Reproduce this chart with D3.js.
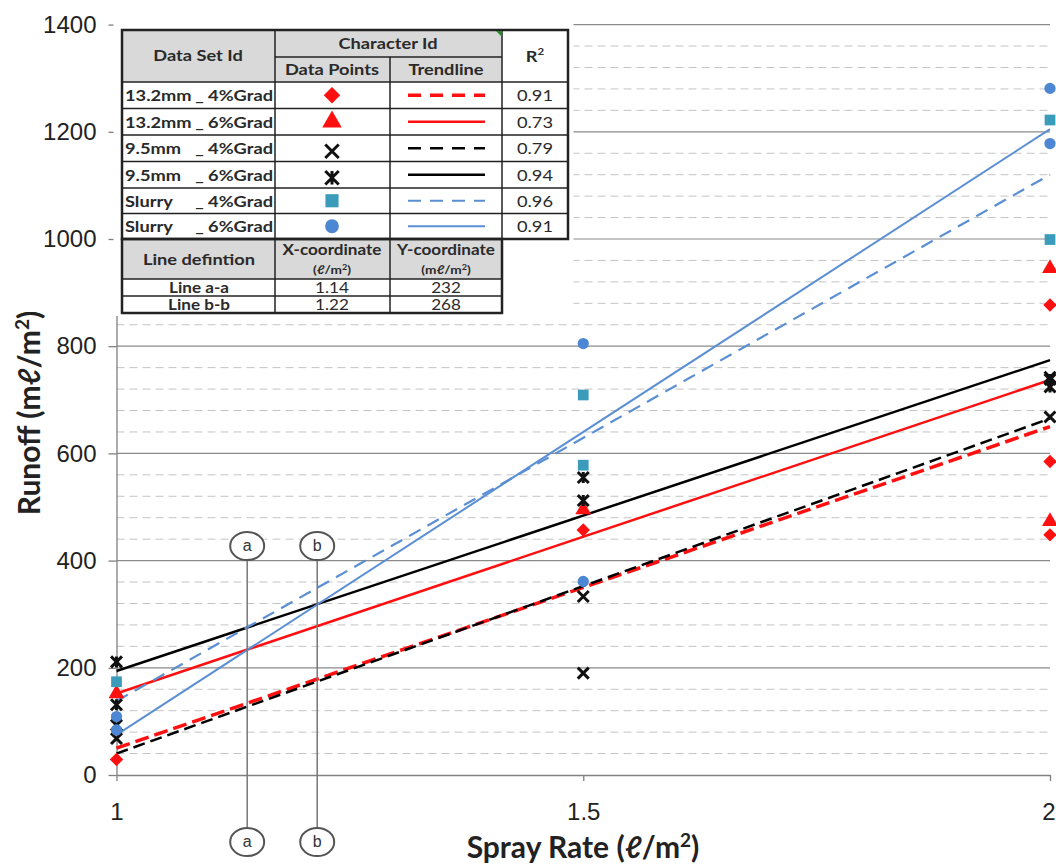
<!DOCTYPE html>
<html>
<head>
<meta charset="utf-8">
<script src="https://cdn.jsdelivr.net/npm/d3@7"></script>
<style>
  body { margin: 0; background: #fff; }
  svg { display: block; font-family: "Liberation Sans", Arial, sans-serif; }
  .tbl text { font-family: Lato, "Open Sans", sans-serif; font-size: 16px; fill: #2a2a2a; }
  .tbl .hd { font-weight: bold; }
</style>
</head>
<body>
<svg id="chart" width="1056" height="864"></svg>
<script>
// ---- data ----
const sprayRates = [1, 1.5, 2];
const xTicks = [1, 1.5, 2];
const xTickLabels = ["1", "1.5", "2"];
const yTicks = [0, 200, 400, 600, 800, 1000, 1200, 1400];

const setNames = ["13.2mm", "13.2mm", "9.5mm", "9.5mm", "Slurry", "Slurry"];
const setGrads = ["_ 4%Grad", "_ 6%Grad", "_ 4%Grad", "_ 6%Grad", "_ 4%Grad", "_ 6%Grad"];
const rSquared = ["0.91", "0.73", "0.79", "0.94", "0.96", "0.91"];

// runoff points, grouped by spray rate (1, 1.5, 2)
const mm132Grad4 = [[29], [457], [877, 585, 448]];
const mm132Grad6 = [[152], [495], [945, 473]];
const mm95Grad4 = [[93, 68], [333, 190], [668, 742]];
const mm95Grad6 = [[211, 131], [555, 512], [738, 724]];
const slurryGrad4 = [[174], [709, 578], [1222, 999]];
const slurryGrad6 = [[109, 84], [805, 361], [1281, 1178]];

// trendline values at spray rate 1 and 2
const trendAt1 = [50, 152, 40, 194, 138, 75];
const trendAt2 = [650, 737, 665, 774, 1120, 1205];

// line definition table + the a / b guide lines
const lineDefNames = ["Line a-a", "Line b-b"];
const lineDefX = ["1.14", "1.22"];
const lineDefY = ["232", "268"];
const guideX = [1.14, 1.215];
const guideLabels = ["a", "b"];

// ---- look ----
const red = "#ff1010", blue = "#5b8fd4", teal = "#3a9bba", dot = "#4d86d2";
const seriesPoints = [mm132Grad4, mm132Grad6, mm95Grad4, mm95Grad6, slurryGrad4, slurryGrad6];
const markerColor = [red, red, "#111", "#111", teal, dot];
const lineColor = [red, red, "#000", "#000", blue, blue];
const lineDash = ["14,6", null, "12,6", null, "13,8", null];
const lineWidth = [3.5, 2.5, 2.5, 2.5, 2.2, 2];

const symbolX = { draw(ctx, size) {
  const r = Math.sqrt(size) / 2;
  ctx.moveTo(-r, -r); ctx.lineTo(r, r); ctx.moveTo(r, -r); ctx.lineTo(-r, r);
}};
const symbolStar = { draw(ctx, size) {
  const r = Math.sqrt(size) / 2;
  ctx.moveTo(-r, -r); ctx.lineTo(r, r); ctx.moveTo(r, -r); ctx.lineTo(-r, r);
  ctx.moveTo(0, -r); ctx.lineTo(0, r);
}};
const symbolRhomb = { draw(ctx, size) {
  const r = Math.sqrt(size) / 2;
  ctx.moveTo(0, -r); ctx.lineTo(r, 0); ctx.lineTo(0, r); ctx.lineTo(-r, 0); ctx.closePath();
}};
const markerType = [symbolRhomb, d3.symbolTriangle, symbolX, symbolStar, d3.symbolSquare, d3.symbolCircle];
const markerSize = [180, 110, 120, 120, 115, 100];
const strokeMarker = [false, false, true, true, false, false];

const svg = d3.select("#chart");
const x = d3.scaleLinear().domain([1, 2]).range([116.5, 1050]);
const y = d3.scaleLinear().domain([0, 1400]).range([775, 24.6]);

// gridlines
const minor = d3.range(40, 1400, 40).filter(v => v % 200 !== 0);
svg.append("g").selectAll("line").data(minor).join("line")
  .attr("x1", x(1)).attr("x2", x(2))
  .attr("y1", d => y(d)).attr("y2", d => y(d))
  .style("stroke", "#c4c4c4").style("stroke-dasharray", "8,5").style("stroke-width", 1);
svg.append("g").selectAll("line").data(yTicks.filter(v => v > 0)).join("line")
  .attr("x1", x(1)).attr("x2", x(2))
  .attr("y1", d => y(d)).attr("y2", d => y(d))
  .style("stroke", "#8a8a8a").style("stroke-width", 1.2);

// axes
const yAxis = svg.append("g").attr("transform", `translate(${x(1)},0)`)
  .call(d3.axisLeft(y).tickValues(yTicks).tickFormat(d3.format("d")).tickSize(8).tickSizeOuter(0).tickPadding(12));
const xAxis = svg.append("g").attr("transform", `translate(0,${y(0)})`)
  .call(d3.axisBottom(x).tickValues(xTicks).tickFormat((d, i) => xTickLabels[i]).tickSize(6).tickSizeOuter(0).tickPadding(22));
[yAxis, xAxis].forEach(a => {
  a.selectAll("path, line").style("stroke", "#808080").style("stroke-width", 1.3);
  a.selectAll("text").style("font-size", "24px").style("fill", "#222");
});
xAxis.selectAll(".tick text").filter(d => d === 2).attr("text-anchor", "end").attr("dx", 5);

// trendlines
svg.append("g").selectAll("line").data(d3.range(6)).join("line")
  .attr("x1", x(1)).attr("x2", x(2))
  .attr("y1", i => y(trendAt1[i])).attr("y2", i => y(trendAt2[i]))
  .style("stroke", i => lineColor[i])
  .style("stroke-width", i => lineWidth[i])
  .style("stroke-dasharray", i => lineDash[i]);

// points
const flat = [];
seriesPoints.forEach((s, i) => s.forEach((vals, k) => vals.forEach(v => flat.push({ i, x: sprayRates[k], v }))));
svg.append("g").selectAll("path").data(flat).join("path")
  .attr("transform", d => `translate(${x(d.x)},${y(d.v)})`)
  .attr("d", d => d3.symbol(markerType[d.i], markerSize[d.i])())
  .style("fill", d => strokeMarker[d.i] ? "none" : markerColor[d.i])
  .style("stroke", d => strokeMarker[d.i] ? markerColor[d.i] : "none")
  .style("stroke-width", 3);

// a / b guide lines
const guides = svg.append("g").selectAll("g").data(guideX).join("g")
  .attr("transform", d => `translate(${x(d)},0)`);
guides.append("line").attr("y1", 560).attr("y2", 828)
  .style("stroke", "#777").style("stroke-width", 1.5);
[546, 842].forEach(cy => {
  guides.append("ellipse").attr("cy", cy).attr("rx", 17).attr("ry", 14)
    .style("fill", "#fff").style("stroke", "#555").style("stroke-width", 2);
  guides.append("text").attr("y", cy + 5).attr("text-anchor", "middle")
    .style("font-size", "16px").style("fill", "#333").text((d, i) => guideLabels[i]);
});

// axis titles
svg.append("text").attr("x", 583).attr("y", 858).attr("text-anchor", "middle")
  .style("font-family", "Lato, sans-serif").style("font-weight", "bold").style("font-size", "30px").style("fill", "#222")
  .html("Spray Rate (ℓ/m<tspan dy='-11' font-size='19px'>2</tspan><tspan dy='11'>)</tspan>");
svg.append("text").attr("transform", "translate(40,413) rotate(-90)").attr("text-anchor", "middle")
  .style("font-family", "Lato, sans-serif").style("font-weight", "bold").style("font-size", "30px").style("fill", "#222")
  .html("Runoff (mℓ/m<tspan dy='-11' font-size='19px'>2</tspan><tspan dy='11'>)</tspan>");

// ---- table overlay ----
const tbl = svg.append("g").attr("class", "tbl");
const cols = [122, 275, 390, 502, 568];
const rows = [82, 108.5, 135, 161.5, 188, 213.5, 239];
const stretch = 1.14;
tbl.append("rect").attr("x", 113.5).attr("y", 24).attr("width", 460).attr("height", 292).style("fill", "#fff");
// header fills
tbl.append("rect").attr("x", cols[0]).attr("y", 30).attr("width", cols[3] - cols[0]).attr("height", 52).style("fill", "#d9d9d9");
tbl.append("rect").attr("x", cols[0]).attr("y", 239).attr("width", cols[3] - cols[0]).attr("height", 40).style("fill", "#d9d9d9");

const hline = (x1, x2, yy, w) => tbl.append("line").attr("x1", x1).attr("x2", x2).attr("y1", yy).attr("y2", yy).style("stroke", "#222").style("stroke-width", w);
const vline = (xx, y1, y2, w) => tbl.append("line").attr("x1", xx).attr("x2", xx).attr("y1", y1).attr("y2", y2).style("stroke", "#222").style("stroke-width", w);

hline(cols[1], cols[3], 57, 1.5);
rows.slice(0, 6).forEach(r => hline(cols[0], cols[4], r, 1.5));
vline(cols[1], 30, 239, 1.5); vline(cols[2], 57, 239, 1.5); vline(cols[3], 30, 239, 1.5);
tbl.append("rect").attr("x", cols[0]).attr("y", 30).attr("width", cols[4] - cols[0]).attr("height", 209)
  .style("fill", "none").style("stroke", "#222").style("stroke-width", 2.5);
// second table
hline(cols[0], cols[3], 279, 1.5); hline(cols[0], cols[3], 296, 1.5);
vline(cols[1], 239, 313, 1.5); vline(cols[2], 239, 313, 1.5);
tbl.append("rect").attr("x", cols[0]).attr("y", 239).attr("width", cols[3] - cols[0]).attr("height", 74)
  .style("fill", "none").style("stroke", "#222").style("stroke-width", 2.5);
// comment marker
tbl.append("path").attr("d", `M${cols[3] - 6},31 L${cols[3]},31 L${cols[3]},37 Z`).style("fill", "#2a8a2a");

const txt = (s, xx, yy, anchor, bold, size) => tbl.append("text")
  .attr("transform", `translate(${xx},${yy}) scale(${stretch},1)`)
  .attr("text-anchor", anchor).attr("class", bold ? "hd" : null)
  .style("font-size", size ? size + "px" : null).html(s);
txt("Data Set Id", 198, 61, "middle", true);
txt("Character Id", 388, 49, "middle", true);
txt("Data Points", 332, 75, "middle", true);
txt("Trendline", 446, 75, "middle", true);
txt("R<tspan dy='-7' font-size='10px'>2</tspan>", 535, 62, "middle", true);

d3.range(6).forEach(i => {
  const cy = (rows[i] + rows[i + 1]) / 2;
  txt(setNames[i], 125, cy + 6, "start", true);
  txt(setGrads[i], 273, cy + 6, "end", true);
  txt(rSquared[i], 535, cy + 6, "middle", false);
  tbl.append("path").attr("transform", `translate(332,${cy + (strokeMarker[i] ? 3 : 0)})`)
    .attr("d", d3.symbol(markerType[i], markerSize[i] * 1.5)())
    .style("fill", strokeMarker[i] ? "none" : markerColor[i])
    .style("stroke", strokeMarker[i] ? "#111" : "none").style("stroke-width", 3);
  tbl.append("line").attr("x1", 408).attr("x2", 485).attr("y1", cy).attr("y2", cy)
    .style("stroke", lineColor[i]).style("stroke-width", lineWidth[i])
    .style("stroke-dasharray", lineDash[i] ? "13,9" : null);
});

txt("Line defintion", 199, 265, "middle", true);
txt("X-coordinate", 332, 255, "middle", true, 15);
txt("(ℓ/m<tspan dy='-4' font-size='8px'>2</tspan><tspan dy='4'>)</tspan>", 332, 274, "middle", true, 12);
txt("Y-coordinate", 446, 255, "middle", true, 15);
txt("(mℓ/m<tspan dy='-4' font-size='8px'>2</tspan><tspan dy='4'>)</tspan>", 446, 274, "middle", true, 12);
d3.range(2).forEach(i => {
  const cy = i === 0 ? 287.5 : 304.5;
  txt(lineDefNames[i], 199, cy + 5, "middle", true, 15);
  txt(lineDefX[i], 332, cy + 5, "middle", false, 15);
  txt(lineDefY[i], 446, cy + 5, "middle", false, 15);
});
</script>
</body>
</html>
